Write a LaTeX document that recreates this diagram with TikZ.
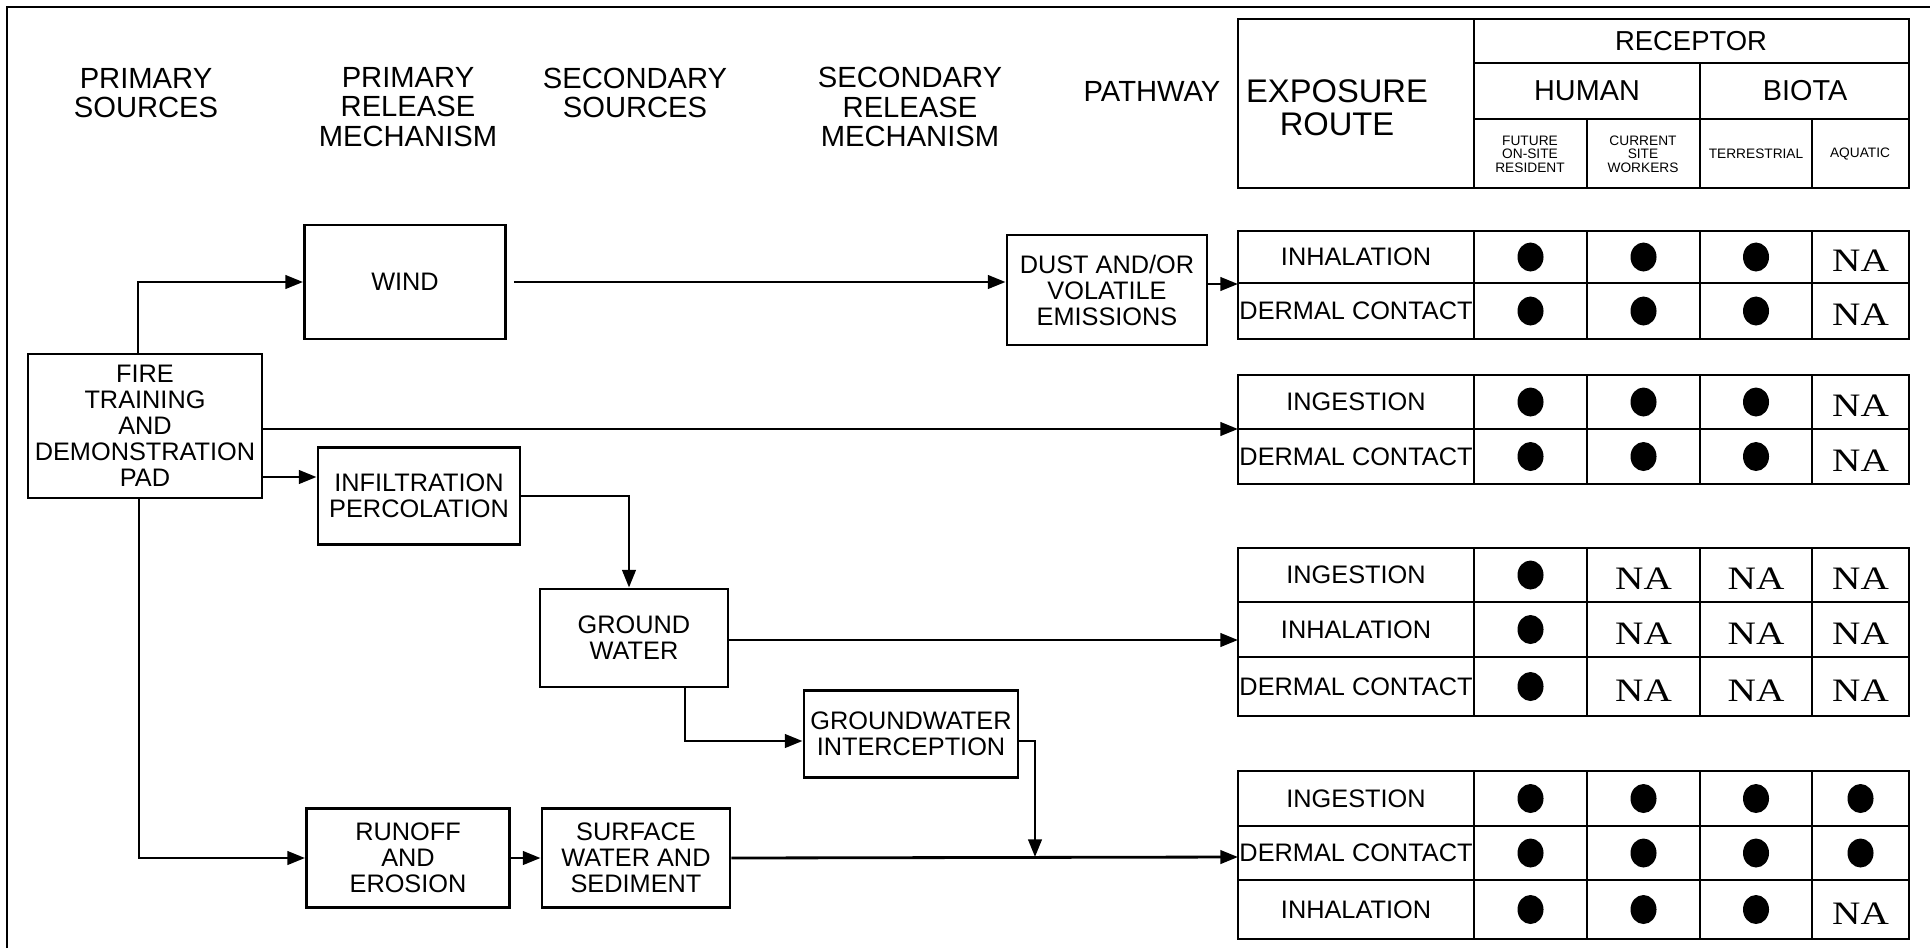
\documentclass[tikz,border=0pt]{standalone}
\usepackage{fontspec}
\setmainfont{Liberation Sans}
\newfontfamily\nafont[FakeStretch=1.2]{Liberation Serif}
\usetikzlibrary{arrows.meta,shapes.geometric}
\tikzset{
  box/.style={draw, line width=0.8pt, align=center, inner sep=1pt, font=\fontsize{7.2}{7.4}\selectfont},
  hd/.style={align=center, font=\fontsize{8.3}{8.4}\selectfont},
  subhd/.style={align=center, inner sep=0pt, font=\fontsize{3.9}{3.8}\selectfont},
  flow/.style={line width=0.8pt, -{Triangle[length=5pt,width=3.8pt]}},
  tbl/.style={line width=0.8pt},
  route/.style={inner sep=0pt, font=\fontsize{7.2}{7.4}\selectfont},
  dot/.style={ellipse, fill, inner sep=0pt, minimum width=0.26cm, minimum height=0.29cm, node contents={}},
  na/.style={inner sep=0pt, yshift=-0.04cm, font=\nafont\fontsize{9.3}{10}\selectfont, node contents=NA}
}
\begin{document}
\begin{tikzpicture}[x=0.01cm, y=-0.01cm]
\useasboundingbox (0,0) rectangle (1930,948);
% frame
\draw[line width=0.6pt] (7,948) -- (7,7) -- (1930,7);

% column heads
\node[hd] (hpsrc) at (146,93) {PRIMARY\\SOURCES};
\node[hd] (hprel) at (408,107) {PRIMARY\\RELEASE\\MECHANISM};
\node[hd] (hssrc) at (635,93) {SECONDARY\\SOURCES};
\node[hd] (hsrel) at (910,107) {SECONDARY\\RELEASE\\MECHANISM};
\node[hd] (hpath) at (1152,91) {PATHWAY};

% receptor table head
\draw[tbl] (1238,19) rectangle (1909,188);
\draw[tbl] (1474,19) -- (1474,188) (1474,63) -- (1909,63) (1474,119) -- (1909,119)
  (1700,63) -- (1700,188) (1587,119) -- (1587,188) (1812,119) -- (1812,188);
\node[align=center, font=\fontsize{9.3}{9.4}\selectfont] (expo) at (1337,108) {EXPOSURE\\ROUTE};
\node[font=\fontsize{7.8}{8}\selectfont] (recp) at (1691,41) {RECEPTOR};
\node[font=\fontsize{8.2}{8}\selectfont] (human) at (1587,91) {HUMAN};
\node[font=\fontsize{8.2}{8}\selectfont] (biota) at (1805,91) {BIOTA};
\node[subhd] (future) at (1530,154) {FUTURE\\ON-SITE\\RESIDENT};
\node[subhd] (workers) at (1643,154) {CURRENT\\SITE\\WORKERS};
\node[subhd] (terr) at (1756,154) {TERRESTRIAL};
\node[subhd] (aqua) at (1860,154) {AQUATIC};

% sources and mechanisms
\node[box, minimum width=2.34cm, minimum height=1.44cm] (fire) at (145,426) {FIRE\\TRAINING\\AND\\DEMONSTRATION\\PAD};
\node[box, minimum width=2.01cm, minimum height=1.14cm] (wind) at (405,282) {WIND};
\node[box, minimum width=2.02cm, minimum height=0.97cm] (infil) at (419,496) {INFILTRATION\\PERCOLATION};
\node[box, minimum width=2.00cm, minimum height=1.10cm] (dust) at (1107,290) {DUST AND/OR\\VOLATILE\\EMISSIONS};
\node[box, minimum width=1.88cm, minimum height=0.98cm] (gw) at (634,638) {GROUND\\WATER};
\node[box, minimum width=2.14cm, minimum height=0.87cm] (gwi) at (911,734) {GROUNDWATER\\INTERCEPTION};
\node[box, minimum width=2.03cm, minimum height=0.99cm] (runoff) at (408,858) {RUNOFF\\AND\\EROSION};
\node[box, minimum width=1.88cm, minimum height=0.99cm] (surf) at (636,858) {SURFACE\\WATER AND\\SEDIMENT};

% exposure route tables
\foreach \ya/\yb in {231/339, 375/484, 548/716, 771/939}{
  \draw[tbl] (1238,\ya) rectangle (1909,\yb);
  \foreach \x in {1474,1587,1700,1812} \draw[tbl] (\x,\ya) -- (\x,\yb);
}
\foreach \y in {283,429,602,657,826,880} \draw[tbl] (1238,\y) -- (1909,\y);

\foreach \ya/\yb/\lab/\ca/\cb/\cc/\cd [count=\i] in {
  231/283/INHALATION/dot/dot/dot/na,
  283/339/DERMAL CONTACT/dot/dot/dot/na,
  375/429/INGESTION/dot/dot/dot/na,
  429/484/DERMAL CONTACT/dot/dot/dot/na,
  548/602/INGESTION/dot/na/na/na,
  602/657/INHALATION/dot/na/na/na,
  657/716/DERMAL CONTACT/dot/na/na/na,
  771/826/INGESTION/dot/dot/dot/dot,
  826/880/DERMAL CONTACT/dot/dot/dot/dot,
  880/939/INHALATION/dot/dot/dot/na}{
  \node[route] (r\i) at (1356,{(\ya+\yb)/2}) {\lab};
  \node (r\i-a) at (1530.5,{(\ya+\yb)/2}) [\ca];
  \node (r\i-b) at (1643.5,{(\ya+\yb)/2}) [\cb];
  \node (r\i-c) at (1756,{(\ya+\yb)/2}) [\cc];
  \node (r\i-d) at (1860.5,{(\ya+\yb)/2}) [\cd];
}
\coordinate (g1in) at (1238,284);
\coordinate (g2in) at (1238,429);
\coordinate (g3in) at (1238,640);
\coordinate (g4in) at (1238,857);
\coordinate (jn) at (1035,857);

% pathways
\draw[flow] ([xshift=-0.07cm]fire.north) |- (wind.west);
\draw[flow, shorten <=0.07cm] (wind.east) -- (wind.east -| dust.west);
\draw[flow] (dust.east |- g1in) -- (g1in);
\draw[flow] (fire.east |- g2in) -- (g2in);
\draw[flow] (fire.east |- 0,477) -- (infil.west |- 0,477);
\draw[flow] (infil.east) -| ([xshift=-0.05cm]gw.north);
\draw[flow] (gw.east |- g3in) -- (g3in);
\draw[flow] (gw.south -| 685,0) |- (gwi.west |- 0,741);
\draw[flow] (gwi.east |- 0,741) -| (jn);
\draw[flow] ([xshift=-0.06cm]fire.south) |- (runoff.west);
\draw[flow] (runoff) -- (surf);
\draw[flow] (surf.east) -- (g4in);
\end{tikzpicture}
\end{document}
